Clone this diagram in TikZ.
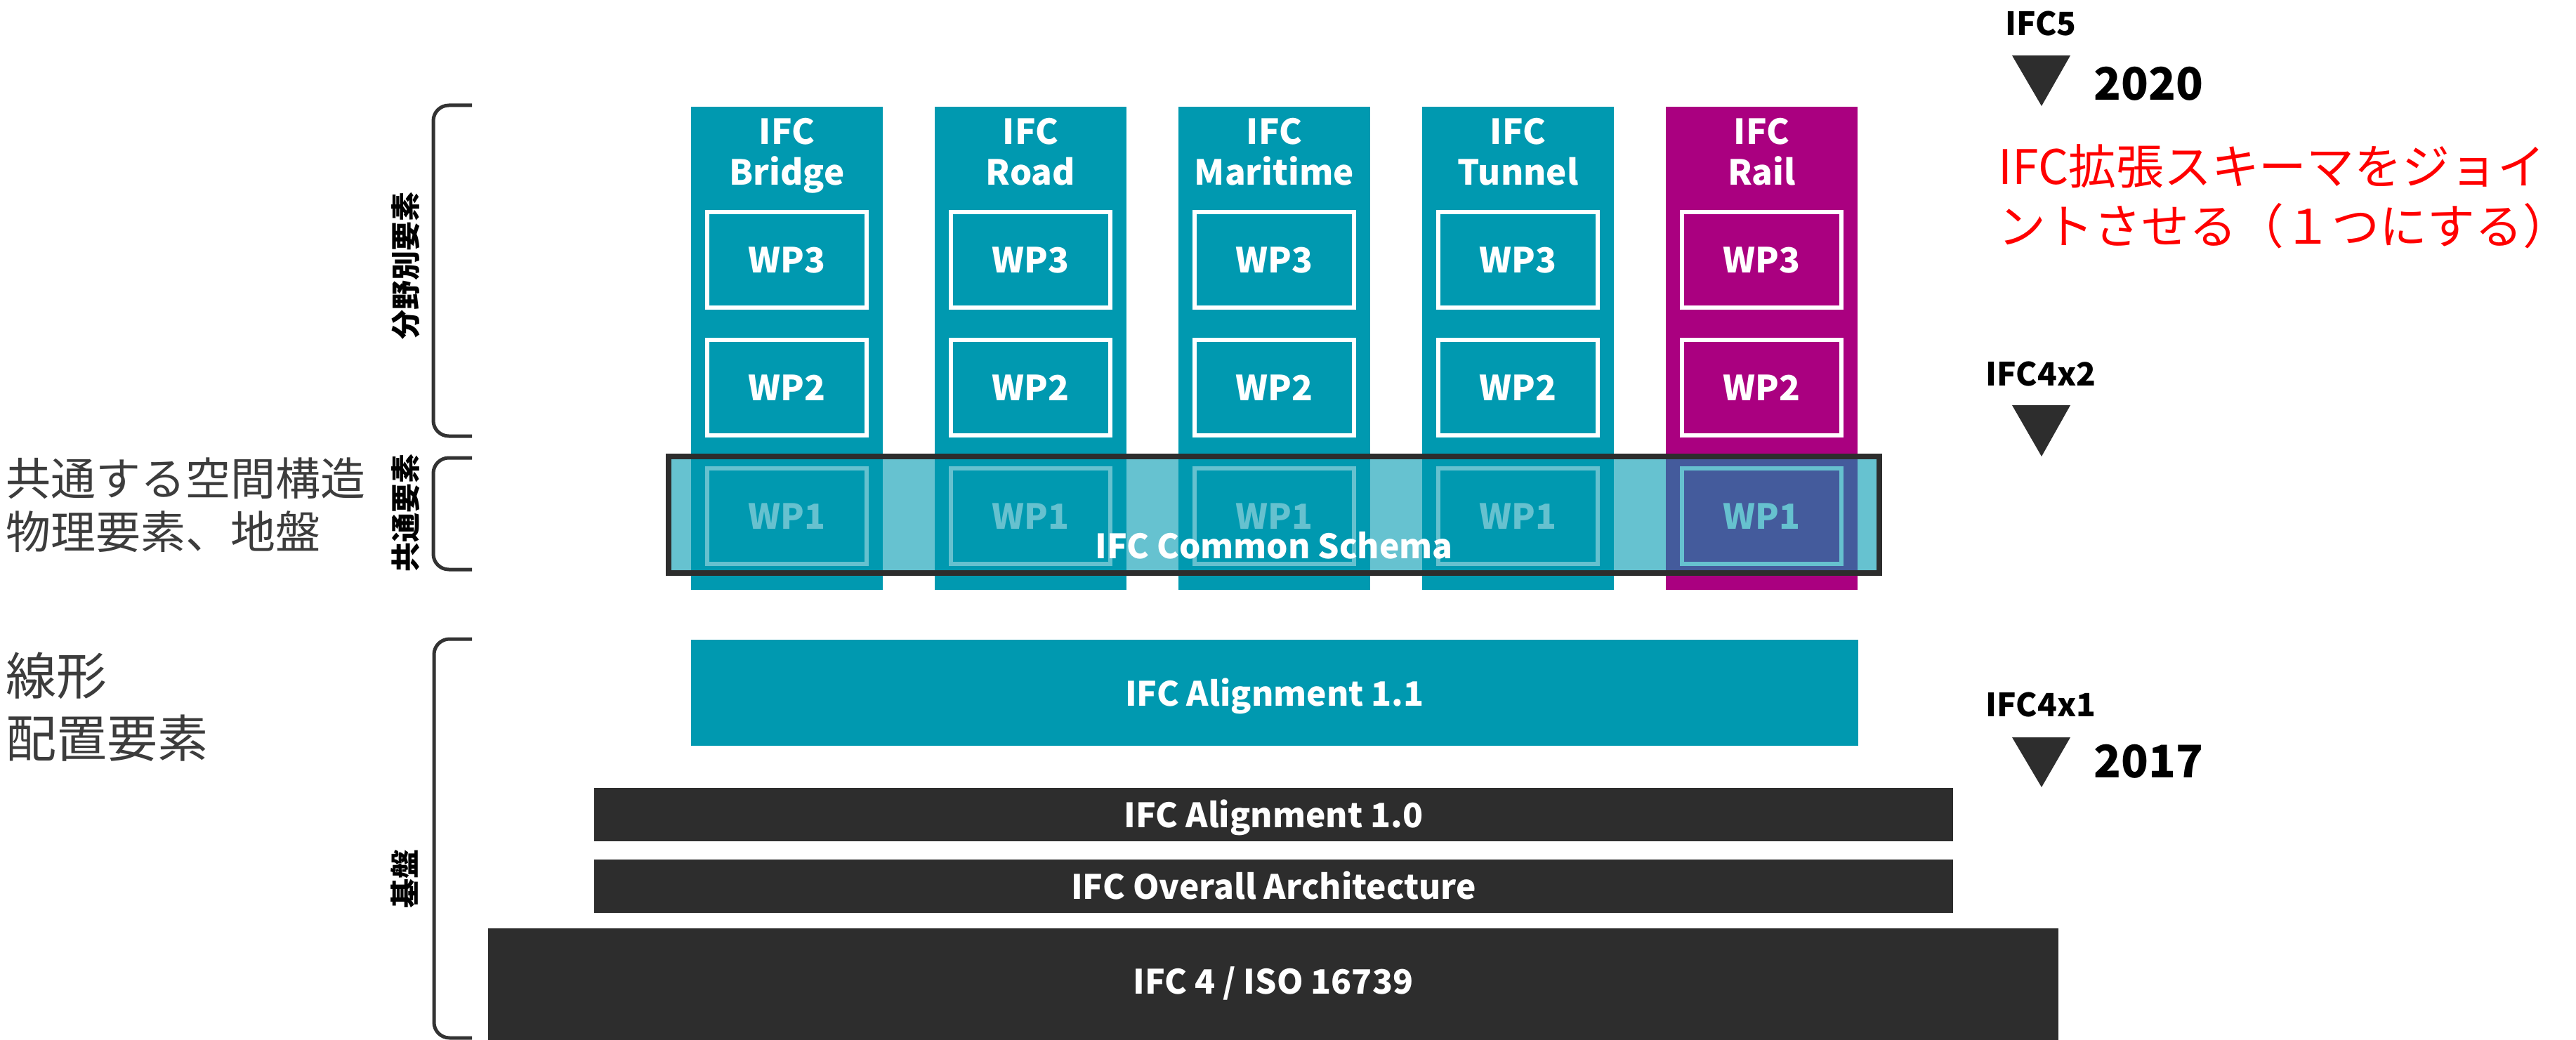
\documentclass[tikz,border=0pt]{standalone}
\usepackage{fontspec}
\setmainfont{Noto Sans CJK JP}
\definecolor{ifcteal}{RGB}{0,153,176}
\definecolor{ifcmag}{RGB}{170,0,128}
\definecolor{darkbar}{RGB}{45,45,45}
\definecolor{brgray}{RGB}{51,51,51}
\definecolor{lefttext}{RGB}{60,60,60}
\definecolor{notered}{RGB}{255,0,0}
\begin{document}
\begin{tikzpicture}[x=1cm,y=-1cm,
  col/.style={fill=#1, draw=none, inner sep=0pt, minimum width=2.73cm, minimum height=6.88cm},
  wpbox/.style={draw=white, line width=0.06cm, inner sep=0pt, minimum width=2.27cm, minimum height=1.36cm,
     text=white, text height=0.37cm, text depth=0pt, font=\fontsize{14}{17}\selectfont\bfseries},
  ttl/.style={text=white, inner sep=0pt, text height=0.37cm, text depth=0pt, font=\fontsize{14}{17}\selectfont\bfseries},
  bar/.style={fill=#1, draw=none, inner sep=0pt},
  bartext/.style={text=white, inner sep=0pt, text height=0.37cm, text depth=0pt, font=\fontsize{13.6}{17}\selectfont\bfseries},
  brk/.style={draw=brgray, line width=0.05cm, rounded corners=0.22cm},
  vlabel/.style={rotate=90, inner sep=0pt, text height=0.32cm, text depth=0pt, font=\fontsize{11.95}{14}\selectfont\bfseries},
  lefta/.style={anchor=west, inner sep=0pt, text=lefttext, text height=0.49cm, text depth=0pt, font=\fontsize{18.2}{22}\selectfont},
  leftb/.style={anchor=west, inner sep=0pt, text=lefttext, text height=0.55cm, text depth=0pt, font=\fontsize{20.5}{24}\selectfont},
  ver/.style={inner sep=0pt, text height=0.34cm, text depth=0pt, font=\fontsize{13}{16}\selectfont\bfseries},
  year/.style={anchor=west, inner sep=0pt, text height=0.49cm, text depth=0pt, font=\fontsize{18.2}{22}\selectfont\bfseries},
  rednote/.style={anchor=west, inner sep=0pt, text=notered, text height=0.52cm, text depth=0pt, font=\fontsize{19.3}{23}\selectfont},
  tri/.style={fill=darkbar}
]
\useasboundingbox (0,0) rectangle (36.68,14.81);

% columns
\foreach \i/\cx/\nm/\cc in {1/11.205/Bridge/ifcteal, 2/14.675/Road/ifcteal, 3/18.145/Maritime/ifcteal, 4/21.615/Tunnel/ifcteal, 5/25.085/Rail/ifcmag}{
  \node[col=\cc] (col\i) at (\cx,4.96) {};
  \node[ttl] (t\i a) at (\cx,1.87) {IFC};
  \node[ttl] (t\i b) at (\cx,2.45) {\nm};
  \node[wpbox] (wpc\i) at (\cx,3.70) {WP3};
  \node[wpbox] (wpb\i) at (\cx,5.52) {WP2};
  \node[wpbox] (wpa\i) at (\cx,7.35) {WP1};
}

% common schema overlay
\node[fill=ifcteal, fill opacity=0.6, draw=darkbar, draw opacity=1, line width=0.08cm, inner sep=0pt,
      minimum width=17.24cm, minimum height=1.66cm] (common) at (18.14,7.33) {};
\node[bartext] (commontxt) at (18.14,7.77) {IFC Common Schema};

% base bars
\node[bar=ifcteal, minimum width=16.62cm, minimum height=1.51cm] (al11) at (18.15,9.865) {};
\node[bartext] (al11t) at (18.15,9.87) {IFC Alignment 1.1};
\node[bar=darkbar, minimum width=19.35cm, minimum height=0.76cm] (al10) at (18.135,11.60) {};
\node[bartext] (al10t) at (18.135,11.60) {IFC Alignment 1.0};
\node[bar=darkbar, minimum width=19.35cm, minimum height=0.76cm] (oa) at (18.135,12.62) {};
\node[bartext] (oat) at (18.135,12.62) {IFC Overall Architecture};
\node[bar=darkbar, minimum width=22.36cm, minimum height=1.59cm] (ifc4) at (18.13,14.015) {};
\node[bartext] (ifc4t) at (18.13,13.97) {IFC 4 / ISO 16739};

% brackets
\draw[brk] (6.72,1.50) -- (6.17,1.50) -- (6.17,6.21) -- (6.72,6.21);
\draw[brk] (6.72,6.52) -- (6.17,6.52) -- (6.17,8.11) -- (6.72,8.11);
\draw[brk] (6.72,9.10) -- (6.18,9.10) -- (6.18,14.78) -- (6.72,14.78);

% vertical labels
\node[vlabel] (v1) at (5.77,3.78) {分野別要素};
\node[vlabel] (v2) at (5.77,7.30) {共通要素};
\node[vlabel] (v3) at (5.76,12.51) {基盤};

% left texts
\node[lefta] (l1) at (0.08,6.81) {共通する空間構造};
\node[lefta] (l2) at (0.08,7.57) {物理要素、地盤};
\node[leftb] (l3) at (0.08,9.62) {線形};
\node[leftb] (l4) at (0.08,10.51) {配置要素};

% right: versions
\node[ver] (ifc5) at (29.06,0.34) {IFC5};
\fill[tri] (28.65,0.79) -- (29.48,0.79) -- (29.07,1.51) -- cycle;
\node[year] (y2020) at (29.81,1.18) {2020};
\node[rednote] (r1) at (28.45,2.37) {IFC拡張スキーマをジョイ};
\node[rednote] (r2) at (28.45,3.21) {ントさせる（１つにする）};
\node[ver] (ifc4x2) at (29.06,5.32) {IFC4x2};
\fill[tri] (28.65,5.77) -- (29.48,5.77) -- (29.07,6.50) -- cycle;
\node[ver] (ifc4x1) at (29.06,10.03) {IFC4x1};
\fill[tri] (28.65,10.50) -- (29.48,10.50) -- (29.07,11.21) -- cycle;
\node[year] (y2017) at (29.81,10.83) {2017};
\end{tikzpicture}
\end{document}
